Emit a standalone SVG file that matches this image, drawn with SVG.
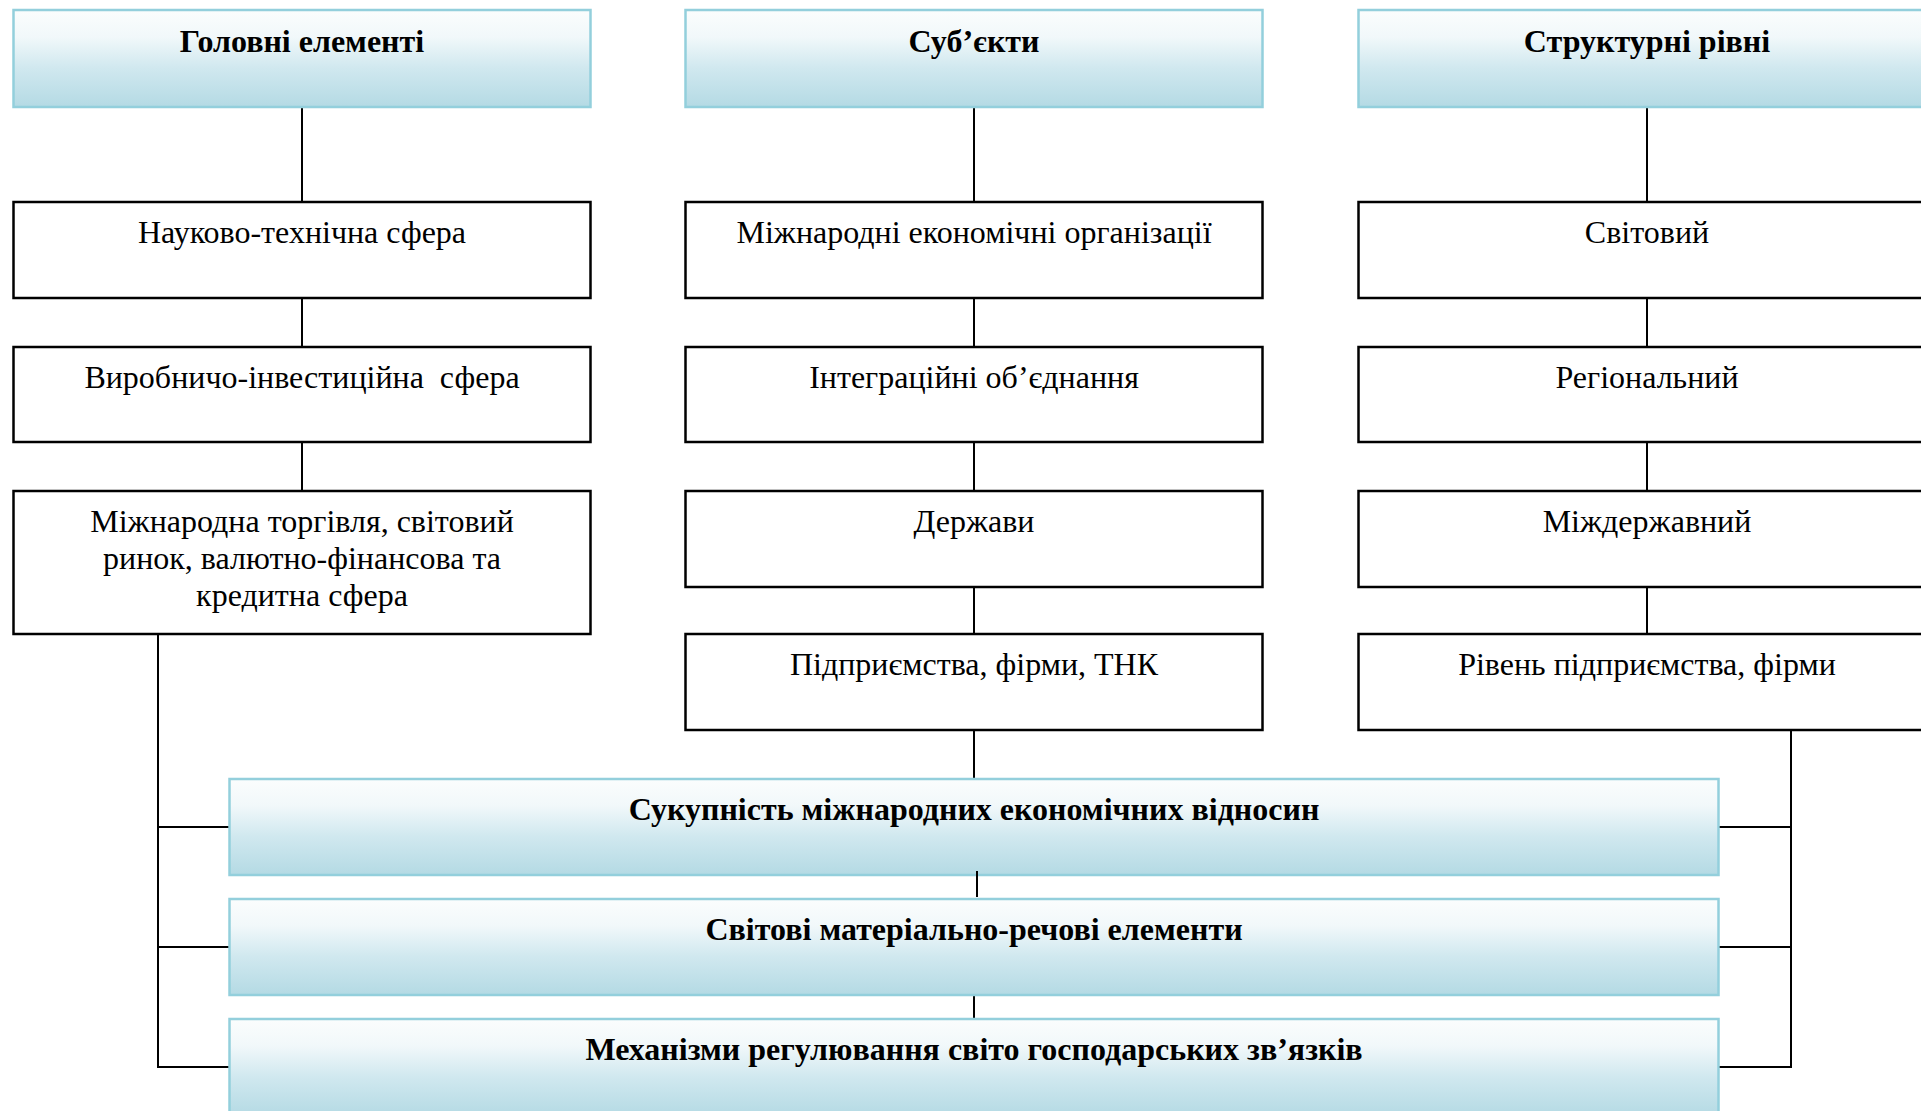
<svg xmlns="http://www.w3.org/2000/svg" width="1921" height="1111" viewBox="0 0 1921 1111">
<defs>
<linearGradient id="g" x1="0" y1="0" x2="0" y2="1">
<stop offset="0" stop-color="#fbfdfd"/>
<stop offset="0.28" stop-color="#f1f8fa"/>
<stop offset="0.6" stop-color="#d0e8ef"/>
<stop offset="1" stop-color="#b4dae4"/>
</linearGradient>
<style>
.h{fill:url(#g);stroke:#93cfdc;stroke-width:2.5}
.b{fill:#fff;stroke:#000;stroke-width:2.5}
.t{font-family:"Liberation Serif","Times New Roman",serif;font-size:32px;fill:#000;text-anchor:middle}
.bt{font-weight:bold}
.c line{stroke:#000;stroke-width:2;fill:none}
</style>
</defs>
<rect width="1921" height="1111" fill="#fff"/>
<g class="c" id="connectors">
<line x1="302" y1="107" x2="302" y2="202"/>
<line x1="302" y1="298" x2="302" y2="347"/>
<line x1="302" y1="442" x2="302" y2="491"/>
<line x1="974" y1="107" x2="974" y2="202"/>
<line x1="974" y1="298" x2="974" y2="347"/>
<line x1="974" y1="442" x2="974" y2="491"/>
<line x1="974" y1="587" x2="974" y2="634"/>
<line x1="974" y1="730" x2="974" y2="779"/>
<line x1="1647" y1="107" x2="1647" y2="202"/>
<line x1="1647" y1="298" x2="1647" y2="347"/>
<line x1="1647" y1="442" x2="1647" y2="491"/>
<line x1="1647" y1="587" x2="1647" y2="634"/>
<line x1="158" y1="634" x2="158" y2="1067"/>
<line x1="157" y1="827" x2="229" y2="827"/>
<line x1="157" y1="947" x2="229" y2="947"/>
<line x1="157" y1="1067" x2="229" y2="1067"/>
<line x1="1791" y1="730" x2="1791" y2="1067"/>
<line x1="1719" y1="827" x2="1792" y2="827"/>
<line x1="1719" y1="947" x2="1792" y2="947"/>
<line x1="1719" y1="1067" x2="1792" y2="1067"/>
<line x1="974" y1="994" x2="974" y2="1019"/>
</g>
<g id="n-golovni"><rect class="h" x="13.5" y="10" width="577" height="97"/><text class="t bt" x="302" y="52">Головні елементі</text></g>
<g id="n-subjekty"><rect class="h" x="685.5" y="10" width="577" height="97"/><text class="t bt" x="974" y="52">Суб’єкти</text></g>
<g id="n-rivni"><rect class="h" x="1358.5" y="10" width="577" height="97"/><text class="t bt" x="1647" y="52">Структурні рівні</text></g>
<g id="n-nauk"><rect class="b" x="13.5" y="202" width="577" height="96"/><text class="t" x="302" y="243">Науково-технічна сфера</text></g>
<g id="n-vyrob"><rect class="b" x="13.5" y="347" width="577" height="95"/><text class="t" x="302" y="388" xml:space="preserve">Виробничо-інвестиційна  сфера</text></g>
<g id="n-torg"><rect class="b" x="13.5" y="491" width="577" height="143"/><text class="t" x="302" y="532">Міжнародна торгівля, світовий</text><text class="t" x="302" y="569">ринок, валютно-фінансова та</text><text class="t" x="302" y="606">кредитна сфера</text></g>
<g id="n-org"><rect class="b" x="685.5" y="202" width="577" height="96"/><text class="t" x="974" y="243">Міжнародні економічні організації</text></g>
<g id="n-integr"><rect class="b" x="685.5" y="347" width="577" height="95"/><text class="t" x="974" y="388">Інтеграційні об’єднання</text></g>
<g id="n-derzh"><rect class="b" x="685.5" y="491" width="577" height="96"/><text class="t" x="974" y="532">Держави</text></g>
<g id="n-pidpr"><rect class="b" x="685.5" y="634" width="577" height="96"/><text class="t" x="974" y="675">Підприємства, фірми, ТНК</text></g>
<g id="n-svit"><rect class="b" x="1358.5" y="202" width="577" height="96"/><text class="t" x="1647" y="243">Світовий</text></g>
<g id="n-reg"><rect class="b" x="1358.5" y="347" width="577" height="95"/><text class="t" x="1647" y="388">Регіональний</text></g>
<g id="n-mizh"><rect class="b" x="1358.5" y="491" width="577" height="96"/><text class="t" x="1647" y="532">Міждержавний</text></g>
<g id="n-riven"><rect class="b" x="1358.5" y="634" width="577" height="96"/><text class="t" x="1647" y="675">Рівень підприємства, фірми</text></g>
<g id="n-sukup"><rect class="h" x="229.5" y="779" width="1489" height="96"/><text class="t bt" x="974" y="820">Сукупність міжнародних економічних відносин</text></g>
<g id="n-mater"><rect class="h" x="229.5" y="899" width="1489" height="96"/><text class="t bt" x="974" y="940">Світові матеріально-речові елементи</text></g>
<g id="n-mekh"><rect class="h" x="229.5" y="1019" width="1489" height="97"/><text class="t bt" x="974" y="1060">Механізми регулювання світо господарських зв’язків</text></g>
<line x1="977" y1="871" x2="977" y2="897" stroke="#000" stroke-width="2"/>
</svg>
